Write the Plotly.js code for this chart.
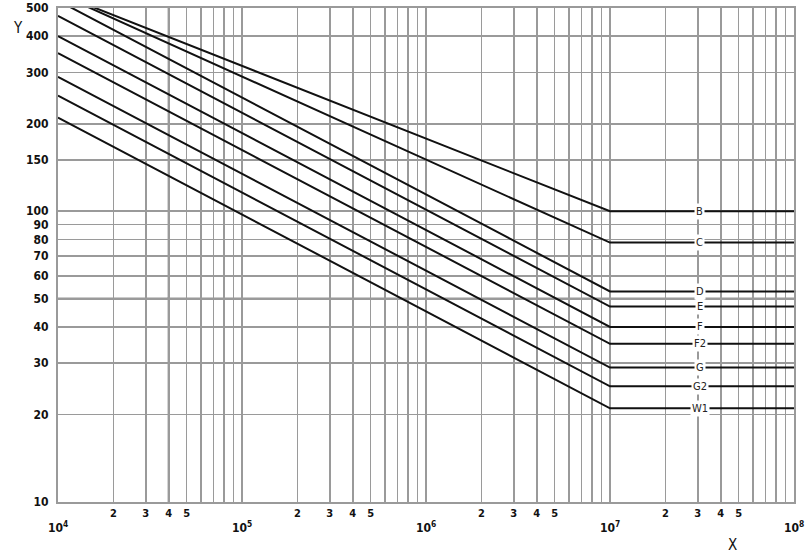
<!DOCTYPE html>
<html>
<head>
<meta charset="utf-8">
<script src="https://cdn.plot.ly/plotly-3.0.1.min.js"></script>
<style>html,body{margin:0;padding:0;background:#fff;}#chart{width:809px;height:557px;}</style>
</head>
<body>
<div id="chart"></div>
<script>
// S-N curve classes
const classNames = ['B', 'C', 'D', 'E', 'F', 'F2', 'G', 'G2', 'W1'];
// stress range at N = 1e4 (start of each curve)
const stressStart = [562, 561, 530, 470, 400, 350, 290, 250, 210];
// stress range at the knee N = 1e7 (constant afterwards)
const stressKnee = [100, 78, 53, 47, 40, 35, 29, 25, 21];
const nStart = 1e4;
const nKnee = 1e7;
const nEnd = 1e8;

const yTickVals = [10, 20, 30, 40, 50, 60, 70, 80, 90, 100, 150, 200, 300, 400, 500];
const yTickText = ['10', '20', '30', '40', '50', '60', '70', '80', '90', '100', '150', '200', '300', '400', '500'];
const decades = [1e4, 1e5, 1e6, 1e7];
const minorMult = [2, 3, 4, 5, 6, 7, 8, 9];
const minorLabels = ['2', '3', '4', '5', '', '', '', ''];
const majorExp = [4, 5, 6, 7, 8];

const FONT = 'DejaVu Sans Condensed, Liberation Sans Narrow, DejaVu Sans, sans-serif';

const xTickVals = [], xTickText = [];
decades.forEach(d => {
  xTickVals.push(d); xTickText.push('');
  minorMult.forEach((m, i) => { xTickVals.push(d * m); xTickText.push(minorLabels[i]); });
});
xTickVals.push(1e8); xTickText.push('');

const traces = classNames.map((name, i) => ({
  type: 'scatter', mode: 'lines', name: name,
  x: [nStart, nKnee, nEnd],
  y: [stressStart[i], stressKnee[i], stressKnee[i]],
  line: {color: '#111', width: 2},
  showlegend: false, hoverinfo: 'skip'
}));

const annotations = [];
classNames.forEach((name, i) => {
  annotations.push({
    x: Math.log10(3.08e7), y: Math.log10(stressKnee[i]), xref: 'x', yref: 'y',
    text: name, showarrow: false, bgcolor: '#fff', borderpad: 1,
    font: {family: FONT, size: 11, color: '#222'}
  });
});
majorExp.forEach(e => {
  annotations.push({
    x: e, y: 0, xref: 'x', yref: 'paper', yanchor: 'middle', yshift: -25,
    text: '10<sup>' + e + '</sup>', showarrow: false,
    font: {family: FONT, size: 12, color: '#111', weight: 'bold'}
  });
});
annotations.push({x: (739 - 58) / 736, y: 0, xref: 'paper', yref: 'paper', yanchor: 'middle', yshift: -43,
  text: 'X', showarrow: false, font: {family: FONT, size: 15, color: '#111'}});
annotations.push({x: (11 - 58) / 736, y: 1, xref: 'paper', yref: 'paper', yanchor: 'middle', yshift: -20,
  text: 'Y', showarrow: false, font: {family: FONT, size: 15, color: '#111'}});

const shapes = [
  {type: 'line', xref: 'x', yref: 'paper', x0: 4e4, x1: 4e4, y0: 0, y1: 1, layer: 'below', line: {color: '#444', width: 2}},
  {type: 'line', xref: 'x', yref: 'paper', x0: 1e7, x1: 1e7, y0: 0, y1: 1, layer: 'below', line: {color: '#666', width: 2}},
  {type: 'line', xref: 'paper', yref: 'y', x0: 0, x1: 1, y0: 50, y1: 50, layer: 'below', line: {color: '#333', width: 2}}
];

const layout = {
  width: 809, height: 557,
  margin: {l: 58, r: 15, t: 8, b: 55},
  paper_bgcolor: '#fff', plot_bgcolor: '#fff',
  showlegend: false,
  font: {family: FONT, color: '#111'},
  xaxis: {
    type: 'log', range: [4, 8], tickmode: 'array', tickvals: xTickVals, ticktext: xTickText,
    showgrid: true, gridcolor: '#9a9a9a', gridwidth: 1.6,
    showline: true, linecolor: '#9a9a9a', linewidth: 2, mirror: true,
    ticks: '', zeroline: false,
    tickfont: {family: FONT, size: 11, color: '#111', weight: 'bold'}
  },
  yaxis: {
    type: 'log', range: [1, Math.log10(500)], tickmode: 'array', tickvals: yTickVals, ticktext: yTickText,
    showgrid: true, gridcolor: '#9a9a9a', gridwidth: 1.6,
    showline: true, linecolor: '#9a9a9a', linewidth: 2, mirror: true,
    ticks: '', zeroline: false, ticklabelstandoff: 5,
    tickfont: {family: FONT, size: 12, color: '#111', weight: 'bold'}
  },
  annotations: annotations,
  shapes: shapes
};

Plotly.newPlot('chart', traces, layout, {staticPlot: true, displayModeBar: false});
</script>
</body>
</html>
